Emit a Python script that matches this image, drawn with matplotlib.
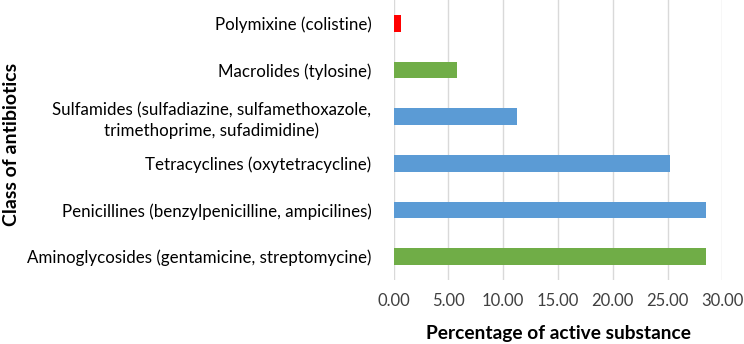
import matplotlib.pyplot as plt

# Data (bottom to top)
classes = [
    'Aminoglycosides (gentamicine, streptomycine)',
    'Penicillines (benzylpenicilline, ampicilines)',
    'Tetracyclines (oxytetracycline)',
    'Sulfamides (sulfadiazine, sulfamethoxazole,\ntrimethoprime, sufadimidine)',
    'Macrolides (tylosine)',
    'Polymixine (colistine)',
]
percentages = [28.5, 28.5, 25.2, 11.3, 5.8, 0.7]
bar_colors = ['#70AD47', '#5B9BD5', '#5B9BD5', '#5B9BD5', '#70AD47', '#FF0000']
xticks = [0, 5, 10, 15, 20, 25, 30]

plt.rcParams['font.family'] = ['Lato', 'DejaVu Sans']

fig = plt.figure(figsize=(7.44, 3.44), dpi=100)
ax = fig.add_axes([0.529, 0.186, 0.442, 0.814])

ax.barh(range(len(classes)), percentages, height=0.36, color=bar_colors, zorder=3)

ax.set_xlim(0, 30)
ax.set_ylim(-0.5, len(classes) - 0.5)
ax.set_xticks(xticks)
ax.set_xticklabels(['%.2f' % t for t in xticks], fontsize=12, color='#404040')
ax.set_yticks(range(len(classes)))
ax.set_yticklabels(classes, fontsize=12.2, linespacing=1.3)

ax.tick_params(axis='both', length=0)
ax.tick_params(axis='y', pad=16)
ax.tick_params(axis='x', pad=9)
ax.grid(axis='x', color='#D9D9D9', linewidth=1, zorder=0)
for s in ax.spines.values():
    s.set_visible(False)

ax.set_xlabel('Percentage of active substance', fontsize=13.8, fontweight='bold', labelpad=12)
fig.text(0.016, 0.58, 'Class of antibiotics', rotation=90, fontsize=14,
         fontweight='bold', ha='center', va='center')

# multi-line label centred line by line
fig.canvas.draw()
for lab in ax.get_yticklabels():
    lab.set_multialignment('center')

fig.savefig('out.png', dpi=100)
